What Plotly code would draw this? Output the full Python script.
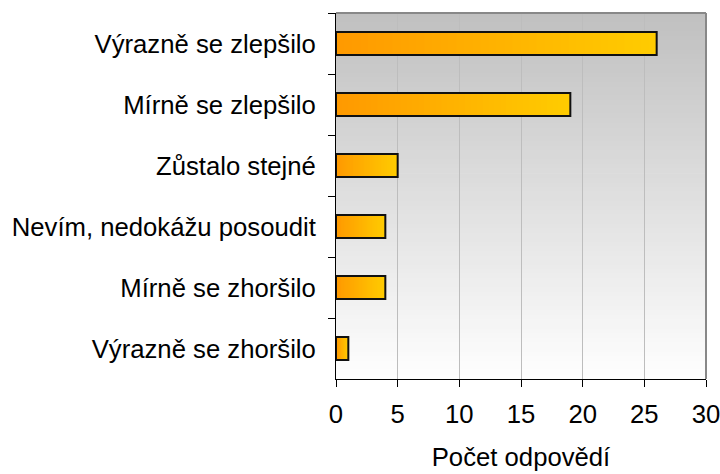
import plotly.graph_objects as go

categories = ["Výrazně se zlepšilo", "Mírně se zlepšilo", "Zůstalo stejné",
              "Nevím, nedokážu posoudit", "Mírně se zhoršilo", "Výrazně se zhoršilo"]
values = [26, 19, 5, 4, 4, 1]
x_ticks = [0, 5, 10, 15, 20, 25, 30]
x_title = "Počet odpovědí"

FONT = "Liberation Sans, Arial, sans-serif"
FS = 25.7
N = 40
c0 = (255, 153, 0)
c1 = (255, 204, 0)

fig = go.Figure()

# gradient fill of each bar: overlapping bars from longest to shortest
for k in range(N):
    frac = (N - k) / N
    t = (N - k - 0.5) / N
    col = "rgb(%d,%d,%d)" % tuple(round(a + (b - a) * t) for a, b in zip(c0, c1))
    fig.add_trace(go.Bar(
        y=categories, x=[v * frac for v in values], orientation="h",
        width=0.38, marker=dict(color=col, line=dict(width=0)),
        hoverinfo="skip", showlegend=False))

# outline
fig.add_trace(go.Bar(
    y=categories, x=values, orientation="h", width=0.38,
    marker=dict(color="rgba(0,0,0,0)", line=dict(color="#111111", width=2)),
    showlegend=False))

# background gradient (gray at top to white at bottom)
shapes = []
M = 80
for i in range(M):
    t = i / (M - 1)
    g = round(192 + (254 - 192) * t)
    shapes.append(dict(type="rect", xref="paper", yref="paper",
                       x0=0, x1=1, y0=1 - (i + 1) / M - 0.002, y1=1 - i / M,
                       fillcolor="rgb(%d,%d,%d)" % (g, g, g), line=dict(width=0),
                       layer="below"))
# top and right gray border
shapes.append(dict(type="line", xref="paper", yref="paper", x0=0, x1=1, y0=1, y1=1,
                   line=dict(color="#888888", width=2)))
shapes.append(dict(type="line", xref="paper", yref="paper", x0=1, x1=1, y0=0, y1=1,
                   line=dict(color="#888888", width=2)))

fig.update_layout(
    width=720, height=474,
    margin=dict(l=336, r=14, t=13, b=95),
    paper_bgcolor="white", plot_bgcolor="rgba(0,0,0,0)",
    barmode="overlay",
    font=dict(family=FONT, size=FS, color="black"),
    shapes=shapes,
    xaxis=dict(range=[0, 30], tickvals=x_ticks, ticks="outside", ticklen=7,
               tickcolor="black", showline=True, linecolor="black", linewidth=1,
               showgrid=True, gridcolor="#BDBDBD", gridwidth=1, zeroline=False,
               ticklabelstandoff=5, automargin=False, ticklabeloverflow="allow",
               title=dict(text=x_title, standoff=21, font=dict(size=FS))),
    yaxis=dict(categoryorder="array", categoryarray=categories, autorange="reversed",
               ticks="outside", ticklen=7, tickcolor="black", tickson="boundaries",
               showline=True, linecolor="black", linewidth=1, showgrid=False,
               ticklabelstandoff=14, automargin=False, ticklabeloverflow="allow"),
)

fig.write_html("out.html", config={"displayModeBar": False},
               post_script="document.body.style.margin='0';document.body.style.overflow='hidden';")
